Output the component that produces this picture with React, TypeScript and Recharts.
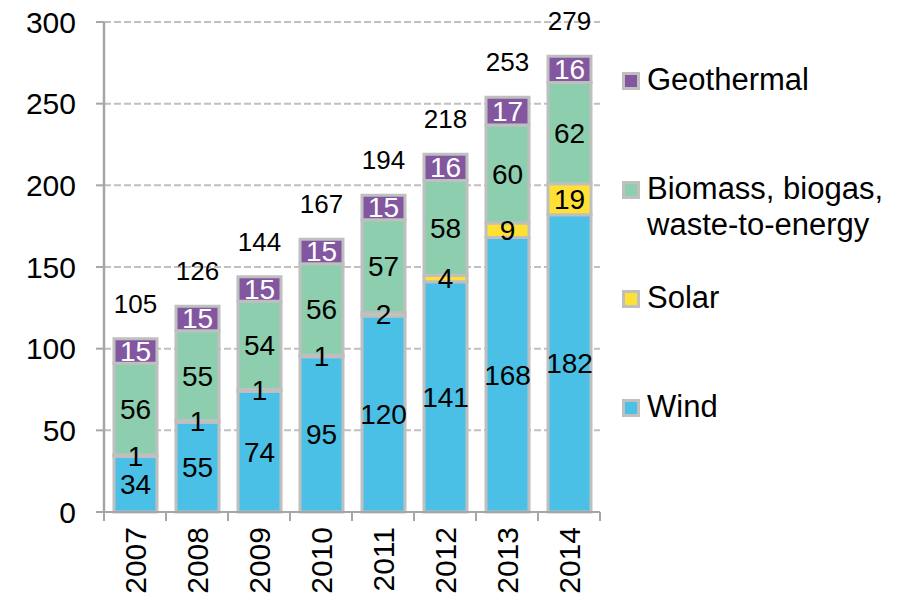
import React from 'react';
import { BarChart, Bar, XAxis, YAxis, CartesianGrid, Legend, LabelList } from 'recharts';

const years = ['2007', '2008', '2009', '2010', '2011', '2012', '2013', '2014'];
const wind = [34, 55, 74, 95, 120, 141, 168, 182];
const solar = [1, 1, 1, 1, 2, 4, 9, 19];
const biomass = [56, 55, 54, 56, 57, 58, 60, 62];
const geothermal = [15, 15, 15, 15, 15, 16, 17, 16];
const totals = [105, 126, 144, 167, 194, 218, 253, 279];
const yTicks = [0, 50, 100, 150, 200, 250, 300];
// legend reads top to bottom, opposite of the stack
const legendOrder = ['Geothermal', 'Biomass, biogas, waste-to-energy', 'Solar', 'Wind'];

const data = years.map((year, i) => ({
  year,
  wind: wind[i],
  solar: solar[i],
  biomass: biomass[i],
  geothermal: geothermal[i],
  total: totals[i],
}));

const W = 911;
const H = 605;
const margin = { top: 22, right: 311, bottom: 0, left: 0 };
const yAxisWidth = 104;
const xAxisHeight = 93;
const band = (W - margin.left - margin.right - yAxisWidth) / years.length;

const FONT = '"Liberation Sans", Arial, sans-serif';
const AXIS = '#a6a6a6';
const EDGE = '#bfbfbf';

const YearTick = ({ x, y, payload, index }: any) => (
  <g>
    <line x1={x - band / 2} y1={y} x2={x - band / 2} y2={y + 9} stroke={AXIS} strokeWidth={2} />
    {index === years.length - 1 && (
      <line x1={x + band / 2} y1={y} x2={x + band / 2} y2={y + 9} stroke={AXIS} strokeWidth={2} />
    )}
    <text
      transform={`translate(${x + 11},${y + 15}) rotate(-90)`}
      textAnchor="end"
      fontSize={30}
      fill="#000"
    >
      {payload.value}
    </text>
  </g>
);

const renderLegend = ({ payload }: any) => {
  const items = legendOrder
    .map((name) => (payload || []).find((p: any) => p.value === name))
    .filter(Boolean);
  return (
    <div style={{ fontFamily: FONT }}>
      {items.map((p: any) => (
        <div key={`lg-${p.value}`} style={{ position: 'relative', height: 109 }}>
          <span
            style={{
              position: 'absolute',
              left: 0,
              top: 10,
              width: 12,
              height: 12,
              background: p.color,
              border: `3px solid ${EDGE}`,
            }}
          />
          <div style={{ marginLeft: 25, width: 262, fontSize: 31, lineHeight: '36px', color: '#000' }}>
            {p.value}
          </div>
        </div>
      ))}
    </div>
  );
};

export default function App() {
  return (
    <div style={{ position: 'absolute', left: 0, top: 0, fontFamily: FONT, background: '#fff' }}>
      <BarChart width={W} height={H} data={data} margin={margin} barSize={43}>
        <CartesianGrid stroke="#c0c0c0" strokeWidth={2} strokeDasharray="7 3" vertical={false} />
        <XAxis
          dataKey="year"
          height={xAxisHeight}
          tickSize={0}
          tickMargin={0}
          tickLine={false}
          axisLine={{ stroke: AXIS, strokeWidth: 2 }}
          tick={<YearTick />}
          interval={0}
        />
        <YAxis
          width={yAxisWidth}
          domain={[0, 300]}
          ticks={yTicks}
          interval={0}
          tickSize={8}
          tickMargin={20}
          axisLine={{ stroke: AXIS, strokeWidth: 2.5 }}
          tickLine={{ stroke: AXIS, strokeWidth: 2 }}
          tick={{ fill: '#000', fontSize: 30 }}
        />
        <Bar dataKey="wind" name="Wind" stackId="a" fill="#4bc0e6" stroke={EDGE} strokeWidth={3} isAnimationActive={false}>
          <LabelList dataKey="wind" position="center" fill="#000" fontSize={28} />
        </Bar>
        <Bar dataKey="solar" name="Solar" stackId="a" fill="#ffe135" stroke={EDGE} strokeWidth={3} isAnimationActive={false}>
          <LabelList dataKey="solar" position="center" fill="#000" fontSize={28} />
        </Bar>
        <Bar dataKey="biomass" name="Biomass, biogas, waste-to-energy" stackId="a" fill="#8ccead" stroke={EDGE} strokeWidth={3} isAnimationActive={false}>
          <LabelList dataKey="biomass" position="center" fill="#000" fontSize={28} />
        </Bar>
        <Bar dataKey="geothermal" name="Geothermal" stackId="a" fill="#8357a0" stroke={EDGE} strokeWidth={3} isAnimationActive={false}>
          <LabelList dataKey="geothermal" position="center" fill="#fff" fontSize={28} />
          <LabelList dataKey="total" position="top" offset={26} fill="#000" fontSize={26} />
        </Bar>
        <Legend
          layout="vertical"
          align="center"
          verticalAlign="middle"
          content={renderLegend}
          wrapperStyle={{ left: 622, top: 62, width: 289 }}
        />
      </BarChart>
    </div>
  );
}
